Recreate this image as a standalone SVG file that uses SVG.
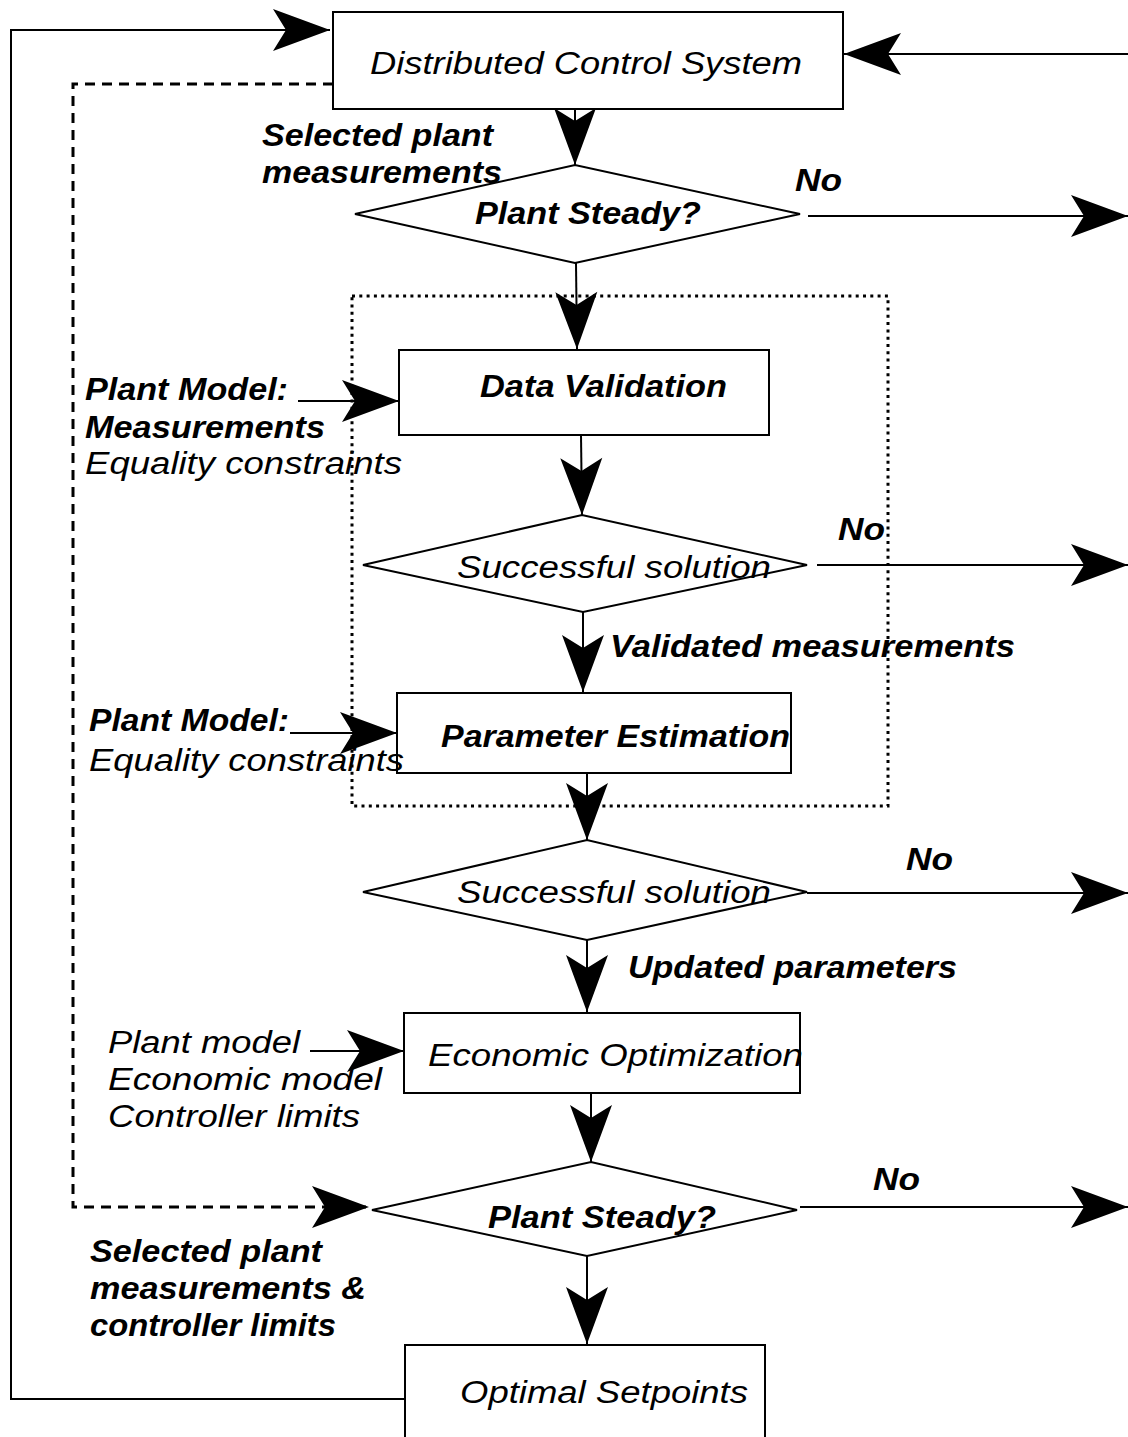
<svg xmlns="http://www.w3.org/2000/svg" width="1128" height="1437" viewBox="0 0 1128 1437">
  <style>
    .box { fill: #fff; stroke: #000; stroke-width: 2; }
    .line { fill: none; stroke: #000; stroke-width: 2; }
    .dash { fill: none; stroke: #000; stroke-width: 3; stroke-dasharray: 10 7; }
    .dots { fill: none; stroke: #000; stroke-width: 3; stroke-dasharray: 3 4.3; }
    text { font-family: "Liberation Sans", Arial, sans-serif; font-style: italic; font-size: 31px; fill: #000; }
    .b { font-weight: bold; }
  </style>
  <defs>
    <marker id="ah" markerUnits="userSpaceOnUse" markerWidth="60" markerHeight="46" viewBox="-58 -23 60 46" refX="0" refY="0" orient="auto">
      <path d="M0,0 L-57,-21 L-44,0 L-57,21 Z" fill="#000"/>
    </marker>
  </defs>

  <rect width="1128" height="1437" fill="#fff"/>

  <!-- dotted frame around validation + estimation -->
  <rect class="dots" x="352" y="296" width="536" height="510"/>

  <g id="connectors">
    <!-- feedback from setpoints to DCS -->
    <polyline class="line" points="405,1399 11,1399 11,30 330,30" marker-end="url(#ah)"/>
    <line class="line" x1="1128" y1="54" x2="844" y2="54" marker-end="url(#ah)"/>
    <!-- dashed bypass -->
    <polyline class="dash" points="333,84 73,84 73,1207 369,1207" marker-end="url(#ah)"/>
    <!-- main vertical flow -->
    <line class="line" x1="575" y1="109" x2="575" y2="165" marker-end="url(#ah)"/>
    <line class="line" x1="576" y1="263" x2="577" y2="349" marker-end="url(#ah)"/>
    <line class="line" x1="581" y1="435" x2="582" y2="515" marker-end="url(#ah)"/>
    <line class="line" x1="583" y1="612" x2="583" y2="692" marker-end="url(#ah)"/>
    <line class="line" x1="587" y1="773" x2="587" y2="840" marker-end="url(#ah)"/>
    <line class="line" x1="587" y1="940" x2="587" y2="1012" marker-end="url(#ah)"/>
    <line class="line" x1="591" y1="1093" x2="591" y2="1162" marker-end="url(#ah)"/>
    <line class="line" x1="587" y1="1256" x2="587" y2="1344" marker-end="url(#ah)"/>
    <!-- "No" exits -->
    <line class="line" x1="808" y1="216" x2="1128" y2="216" marker-end="url(#ah)"/>
    <line class="line" x1="817" y1="565" x2="1128" y2="565" marker-end="url(#ah)"/>
    <line class="line" x1="807" y1="893" x2="1128" y2="893" marker-end="url(#ah)"/>
    <line class="line" x1="800" y1="1207" x2="1128" y2="1207" marker-end="url(#ah)"/>
    <!-- model inputs -->
    <line class="line" x1="298" y1="401" x2="399" y2="401" marker-end="url(#ah)"/>
    <line class="line" x1="290" y1="733" x2="397" y2="733" marker-end="url(#ah)"/>
    <line class="line" x1="310" y1="1051" x2="404" y2="1051" marker-end="url(#ah)"/>
  </g>

  <g id="dcs">
    <rect class="box" x="333" y="12" width="510" height="97"/>
    <text x="370" y="74" textLength="432" lengthAdjust="spacingAndGlyphs">Distributed Control System</text>
  </g>

  <g id="steady1">
    <polygon class="box" points="355,214 575,165 800,214 575,263"/>
    <text class="b" x="475" y="224" textLength="226" lengthAdjust="spacingAndGlyphs">Plant Steady?</text>
  </g>

  <g id="data-validation">
    <rect class="box" x="399" y="350" width="370" height="85"/>
    <text class="b" x="480" y="397" textLength="247" lengthAdjust="spacingAndGlyphs">Data Validation</text>
  </g>

  <g id="success1">
    <polygon class="box" points="363,565 582,515 807,565 583,612"/>
    <text x="457" y="578" textLength="314" lengthAdjust="spacingAndGlyphs">Successful solution</text>
  </g>

  <g id="parameter-estimation">
    <rect class="box" x="397" y="693" width="394" height="80"/>
    <text class="b" x="441" y="747" textLength="349" lengthAdjust="spacingAndGlyphs">Parameter Estimation</text>
  </g>

  <g id="success2">
    <polygon class="box" points="363,892 587,840 807,892 587,940"/>
    <text x="457" y="903" textLength="314" lengthAdjust="spacingAndGlyphs">Successful solution</text>
  </g>

  <g id="economic-optimization">
    <rect class="box" x="404" y="1013" width="396" height="80"/>
    <text x="428" y="1066" textLength="375" lengthAdjust="spacingAndGlyphs">Economic Optimization</text>
  </g>

  <g id="steady2">
    <polygon class="box" points="372,1210 591,1162 797,1210 587,1256"/>
    <text class="b" x="488" y="1228" textLength="228" lengthAdjust="spacingAndGlyphs">Plant Steady?</text>
  </g>

  <g id="optimal-setpoints">
    <rect class="box" x="405" y="1345" width="360" height="100"/>
    <text x="460" y="1403" textLength="288" lengthAdjust="spacingAndGlyphs">Optimal Setpoints</text>
  </g>

  <g id="labels">
    <text class="b" x="262" y="146" textLength="231" lengthAdjust="spacingAndGlyphs">Selected plant</text>
    <text class="b" x="262" y="183" textLength="240" lengthAdjust="spacingAndGlyphs">measurements</text>
    <text class="b" x="795" y="191" textLength="47" lengthAdjust="spacingAndGlyphs">No</text>
    <text class="b" x="838" y="540" textLength="47" lengthAdjust="spacingAndGlyphs">No</text>
    <text class="b" x="906" y="870" textLength="47" lengthAdjust="spacingAndGlyphs">No</text>
    <text class="b" x="873" y="1190" textLength="47" lengthAdjust="spacingAndGlyphs">No</text>

    <text class="b" x="85" y="400" textLength="203" lengthAdjust="spacingAndGlyphs">Plant Model:</text>
    <text class="b" x="85" y="438" textLength="240" lengthAdjust="spacingAndGlyphs">Measurements</text>
    <text x="85" y="474" textLength="317" lengthAdjust="spacingAndGlyphs">Equality constraints</text>

    <text class="b" x="610" y="657" textLength="405" lengthAdjust="spacingAndGlyphs">Validated measurements</text>

    <text class="b" x="89" y="731" textLength="200" lengthAdjust="spacingAndGlyphs">Plant Model:</text>
    <text x="89" y="771" textLength="315" lengthAdjust="spacingAndGlyphs">Equality constraints</text>

    <text class="b" x="628" y="978" textLength="329" lengthAdjust="spacingAndGlyphs">Updated parameters</text>

    <text x="108" y="1053" textLength="192" lengthAdjust="spacingAndGlyphs">Plant model</text>
    <text x="108" y="1090" textLength="274" lengthAdjust="spacingAndGlyphs">Economic model</text>
    <text x="108" y="1127" textLength="252" lengthAdjust="spacingAndGlyphs">Controller limits</text>

    <text class="b" x="90" y="1262" textLength="232" lengthAdjust="spacingAndGlyphs">Selected plant</text>
    <text class="b" x="90" y="1299" textLength="276" lengthAdjust="spacingAndGlyphs">measurements &amp;</text>
    <text class="b" x="90" y="1336" textLength="246" lengthAdjust="spacingAndGlyphs">controller limits</text>
  </g>
</svg>
